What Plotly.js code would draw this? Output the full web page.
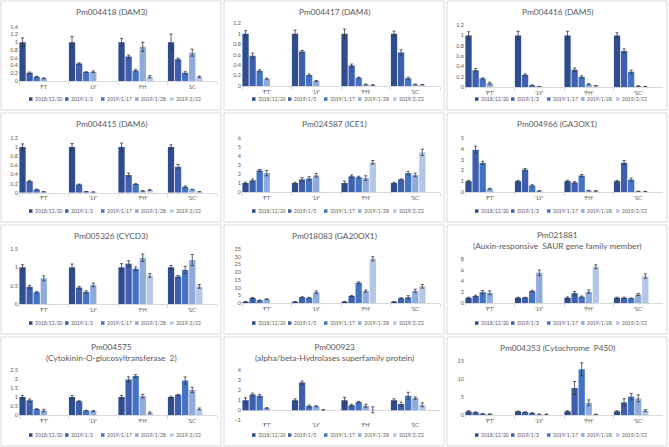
<!DOCTYPE html>
<html>
<head>
<meta charset="utf-8">
<script src="https://cdn.plot.ly/plotly-3.0.1.min.js"></script>
<style>html,body{margin:0;padding:0;background:#fff;}#chart{width:669px;height:447px;}</style>
</head>
<body>
<div id="chart"></div>
<script>
// ---- data ----
const seriesNames = ["2018/12/20", "2019/1/3", "2019/1/17", "2019/1/28", "2019/2/22"];
const catsPlain = ["FT", "LY", "FH", "SC"];
const catsQuoted = ["'FT'", "'LY'", "'FH'", "'SC'"];
const titles = [
  "Pm004418 (DAM3)", "Pm004417 (DAM4)", "Pm004416 (DAM5)",
  "Pm004415 (DAM6)", "Pm024587 (ICE1)", "Pm004966 (GA3OX1)",
  "Pm005326 (CYCD3)", "Pm018083 (GA20OX1)", "Pm021881<br>(Auxin-responsive  SAUR gene family member)",
  "Pm004575<br>(Cytokinin-O-glucosyltransferase  2)", "Pm000923<br>(alpha/beta-Hydrolases superfamily protein)", "Pm004353 (Cytochrome  P450)"
];
// each: 5 series (rows) x 4 categories (FT, LY, FH, SC)
const dam3 = [[1,1,1,1],[0.21,0.45,0.63,0.56],[0.11,0.23,0.27,0.21],[0.07,0.24,0.88,0.73],[null,null,0.11,0.11]];
const dam3Err = [[0.11,0.15,0.10,0.21],[0.02,0.02,0.04,0.03],[0.01,0.01,0.03,0.03],[0.01,0.02,0.12,0.09],[null,null,0.03,0.02]];
const dam4 = [[1,1,1,1],[0.58,0.66,0.39,0.64],[0.29,0.21,0.16,0.15],[0.14,0.095,0.03,0.03],[null,null,0.02,0.025]];
const dam4Err = [[0.06,0.07,0.09,0.05],[0.05,0.02,0.03,0.05],[0.02,0.02,0.01,0.02],[0.01,0.01,0.005,0.005],[null,null,0.003,0.003]];
const dam5 = [[1,1,1,1],[0.33,0.24,0.34,0.70],[0.17,0.04,0.20,0.30],[0.08,0.015,0.06,0.025],[null,null,0.03,0.015]];
const dam5Err = [[0.07,0.08,0.08,0.05],[0.03,0.02,0.03,0.04],[0.01,0.005,0.02,0.03],[0.02,0.003,0.01,0.004],[null,null,0.005,0.003]];
const dam6 = [[1,1,1,1],[0.25,0.18,0.39,0.57],[0.07,0.025,0.19,0.13],[0.02,0.015,0.04,0.07],[null,null,0.06,0.02]];
const dam6Err = [[0.07,0.08,0.09,0.05],[0.02,0.01,0.04,0.05],[0.01,0.004,0.01,0.02],[0.003,0.003,0.005,0.005],[null,null,0.01,0.003]];
const ice1 = [[1,1,1,1],[1.3,1.4,1.75,1.4],[2.4,1.5,1.65,2.1],[2.1,1.85,1.55,1.9],[null,null,3.3,4.4]];
const ice1Err = [[0.1,0.1,0.2,0.1],[0.15,0.2,0.15,0.05],[0.1,0.2,0.1,0.2],[0.3,0.2,0.25,0.2],[null,null,0.2,0.35]];
const ga3ox1 = [[1,1,1,1],[3.9,2.07,0.88,2.72],[2.7,0.6,1.52,1.14],[0.3,0.1,0.13,0.06],[null,null,0.1,0.05]];
const ga3ox1Err = [[0.08,0.08,0.08,0.08],[0.35,0.1,0.08,0.2],[0.15,0.07,0.1,0.15],[0.05,0.02,0.02,0.01],[null,null,0.02,0.01]];
const cycd3 = [[1,1,1,1],[0.47,0.45,1.1,0.75],[0.32,0.33,0.96,0.93],[0.7,0.52,1.26,1.2],[null,null,0.78,0.48]];
const cycd3Err = [[0.07,0.09,0.1,0.05],[0.04,0.03,0.08,0.03],[0.02,0.03,0.05,0.1],[0.07,0.05,0.1,0.15],[null,null,0.05,0.05]];
const ga20ox1 = [[1,1,1,1],[3.4,3.9,4.7,3.3],[1.9,3.6,13.3,3.9],[2.7,7.1,7.9,8.1],[null,null,28.7,11.0]];
const ga20ox1Err = [[0.2,0.2,0.2,0.2],[0.3,0.3,0.3,0.3],[0.2,0.3,0.5,1.0],[0.2,0.8,0.7,1.0],[null,null,1.3,1.2]];
const saur = [[1,1,1,1],[1.3,1.05,1.8,1.0],[2.0,2.2,1.2,0.9],[1.9,5.5,2.1,1.6],[null,null,6.6,4.9]];
const saurErr = [[0.1,0.1,0.15,0.1],[0.15,0.05,0.3,0.1],[0.3,0.15,0.1,0.05],[0.35,0.5,0.3,0.2],[null,null,0.35,0.4]];
const cgt2 = [[1,1,1,1],[0.82,0.77,1.98,1.13],[0.33,0.25,2.18,1.93],[0.25,0.22,1.06,1.4],[null,null,0.12,0.34]];
const cgt2Err = [[0.1,0.1,0.1,0.05],[0.07,0.03,0.15,0.03],[0.02,0.02,0.08,0.2],[0.07,0.03,0.1,0.15],[null,null,0.05,0.05]];
const abh = [[1,1,1,1],[1.57,2.77,0.5,0.62],[1.45,0.42,0.82,1.45],[0.22,0.4,0.46,1.22],[null,0.05,0.05,0.55]];
const abhErr = [[0.25,0.15,0.3,0.15],[0.15,0.15,0.1,0.2],[0.15,0.1,0.08,0.35],[0.05,0.06,0.15,0.12],[null,0.02,0.3,0.2]];
const p450 = [[1,1,1,1],[0.75,0.8,7.5,3.5],[0.35,0.55,12.7,5.1],[0.25,0.2,3.4,4.6],[null,0.2,0.2,1.2]];
const p450Err = [[0.2,0.1,0.2,0.2],[0.1,0.1,1.8,1.0],[0.05,0.1,1.8,0.9],[0.05,0.05,0.8,1.0],[null,0.03,0.05,0.3]];

const means = [dam3, dam4, dam5, dam6, ice1, ga3ox1, cycd3, ga20ox1, saur, cgt2, abh, p450];
const errs = [dam3Err, dam4Err, dam5Err, dam6Err, ice1Err, ga3ox1Err, cycd3Err, ga20ox1Err, saurErr, cgt2Err, abhErr, p450Err];
const yMin = [0,0,0,0,0,0,0,0,0,0,-1,0];
const yMax = [1.4,1.2,1.2,1.2,6,5,1.5,35,8,2.5,4,15];
const yStep = [0.2,0.2,0.2,0.2,1,1,0.5,5,2,0.5,1,5];

// ---- layout / style ----
const W = 669, H = 447;
const colors = ["#2E4C8E", "#3D5FAE", "#4472C4", "#8FAADC", "#B4C7E7"];
const ox = [0, 223, 446], oy = [0, 112, 224, 336];
const plotTop = [26.7, 23.3, 25, 26, 26, 26, 25, 25, 35, 34.3, 34.3, 25];
const plotBase = [81, 86, 87.3, 80.7, 80, 80, 80, 79.3, 79.3, 79, 84.3, 79];
const legX = [29, 65, 101, 135, 170];
const txt = "#595959";
const px = x => x / W;
const py = y => 1 - y / H;

const traces = [];
const layout = {
  width: W, height: H,
  margin: {l: 0, r: 0, t: 0, b: 0},
  paper_bgcolor: "#fff", plot_bgcolor: "rgba(0,0,0,0)",
  font: {family: "Lato, 'Open Sans', sans-serif", color: txt, size: 6},
  barmode: "overlay",
  showlegend: false,
  shapes: [], annotations: []
};

const slot = 1 / 7;
for (let p = 0; p < 12; p++) {
  const r = Math.floor(p / 3), c = p % 3;
  const X0 = ox[c], Y0 = oy[r];
  const sfx = p === 0 ? "" : String(p + 1);
  const cats = p === 0 ? catsPlain : catsQuoted;
  for (let i = 0; i < 5; i++) {
    traces.push({
      type: "bar",
      x: cats, y: means[p][i],
      name: seriesNames[i],
      xaxis: "x" + sfx, yaxis: "y" + sfx,
      offset: -0.5 + i * slot + 0.008,
      width: slot - 0.016,
      marker: {color: colors[i], line: {width: 0}},
      error_y: {type: "data", array: errs[p][i], visible: true, color: "#3a3a3a", thickness: 0.8, width: 1.6},
      hoverinfo: "x+y+name"
    });
  }
  const isNeg = yMin[p] < 0;
  layout["xaxis" + sfx] = {
    type: "category", domain: [px(X0 + 19), px(X0 + 217)], anchor: "y" + sfx,
    range: [-0.5, 3.5], showgrid: false, zeroline: false,
    showline: !isNeg, linecolor: "#d9d9d9", linewidth: 1,
    ticks: isNeg ? "" : "outside", tickson: "boundaries", ticklen: 3, tickcolor: "#d9d9d9",
    tickfont: {size: 5.5, color: txt}, fixedrange: true
  };
  layout["yaxis" + sfx] = {
    domain: [py(Y0 + plotBase[p]), py(Y0 + plotTop[p])], anchor: "x" + sfx,
    range: [yMin[p], yMax[p]], tick0: 0, dtick: yStep[p],
    showgrid: false, showline: false, ticks: "",
    zeroline: isNeg, zerolinecolor: "#d9d9d9", zerolinewidth: 1,
    tickfont: {size: 5.5, color: txt}, fixedrange: true
  };
  // frame
  layout.shapes.push({type: "rect", xref: "paper", yref: "paper",
    x0: px(X0 + 1), x1: px(X0 + 221), y0: py(Y0 + 110), y1: py(Y0 + 1),
    line: {color: "#d9d9d9", width: 1}, fillcolor: "rgba(0,0,0,0)"});
  // title
  const twoLine = titles[p].indexOf("<br>") >= 0;
  layout.annotations.push({xref: "paper", yref: "paper", x: px(X0 + 111), y: py(Y0 + (twoLine ? 16 : 12)),
    xanchor: "center", yanchor: "middle", showarrow: false, text: titles[p],
    font: {size: 8.3, color: txt}});
  // legend
  for (let i = 0; i < 5; i++) {
    layout.shapes.push({type: "rect", xref: "paper", yref: "paper",
      x0: px(X0 + legX[i]), x1: px(X0 + legX[i] + 3.5), y0: py(Y0 + 100.8), y1: py(Y0 + 97.3),
      line: {width: 0}, fillcolor: colors[i]});
    layout.annotations.push({xref: "paper", yref: "paper", x: px(X0 + legX[i] + 4), y: py(Y0 + 99),
      xanchor: "left", yanchor: "middle", showarrow: false, text: seriesNames[i],
      font: {size: 5, color: txt}});
  }
}

Plotly.newPlot("chart", traces, layout, {staticPlot: true, displayModeBar: false});
</script>
</body>
</html>
